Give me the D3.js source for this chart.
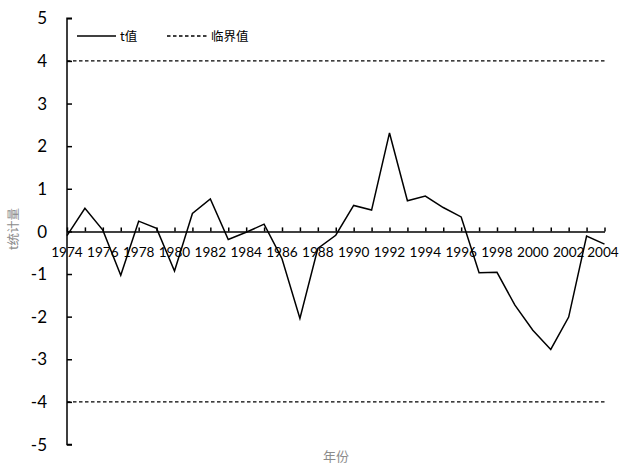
<!DOCTYPE html>
<html>
<head>
<meta charset="utf-8">
<script src="https://cdn.jsdelivr.net/npm/d3@7/dist/d3.min.js"></script>
<style>
  html, body { margin: 0; padding: 0; background: #fff; }
  svg { display: block; }
  .num { font-family: Lato, "Open Sans", "Liberation Sans", sans-serif; }
  .cjk { font-family: "Noto Sans CJK SC", sans-serif; }
</style>
</head>
<body>
<script>
// Yearly t statistic series and the critical threshold
const years = d3.range(1974, 2005);
const tValues = [
  -0.10, 0.54, 0.03, -1.03, 0.24, 0.07, -0.93, 0.42, 0.76, -0.19,
  -0.02, 0.17, -0.64, -2.04, -0.40, -0.09, 0.61, 0.50, 2.31, 0.72,
  0.83, 0.56, 0.34, -0.97, -0.96, -1.73, -2.32, -2.77, -2.01, -0.11,
  -0.30
];
const criticalValue = 4;
const yTicks = [-5, -4, -3, -2, -1, 0, 1, 2, 3, 4, 5];
const xLabelYears = d3.range(1974, 2005, 2);
const seriesNames = ["t值", "临界值"];

const width = 619, height = 465;
const svg = d3.select("body").append("svg")
  .attr("width", width).attr("height", height);

const x = d3.scaleLinear().domain([1974, 2004]).range([67, 604.5]);
const y = d3.scaleLinear().domain([-5, 5]).range([444.5, 18.3]);

// Critical value lines
[criticalValue, -criticalValue].forEach(v => {
  svg.append("line")
    .attr("x1", x(1974)).attr("x2", x(2004))
    .attr("y1", y(v)).attr("y2", y(v))
    .attr("stroke", "#000").attr("stroke-width", 1.3)
    .attr("stroke-dasharray", "3.5,2.5");
});

// Y axis with inward ticks
const yAxis = svg.append("g").attr("transform", `translate(${x(1974)},0)`)
  .call(d3.axisRight(y).tickValues(yTicks).tickSize(5).tickFormat(""));
yAxis.select(".domain").attr("d", `M5,${y(5)}H0V${y(-5)}H5`);
yAxis.selectAll("line, path").attr("stroke", "#000").attr("stroke-width", 1.5);

svg.append("g").selectAll("text").data(yTicks).join("text")
  .attr("class", "num")
  .attr("x", 47).attr("y", d => y(d))
  .attr("dy", "0.36em")
  .attr("text-anchor", "end")
  .attr("font-size", 17).attr("fill", "#000")
  .text(d => d);

// X axis along zero with upward ticks
const xAxis = svg.append("g").attr("transform", `translate(0,${y(0)})`)
  .call(d3.axisTop(x).tickValues(years).tickSize(4).tickSizeOuter(0).tickFormat(""));
xAxis.selectAll("line, path").attr("stroke", "#000").attr("stroke-width", 1.5);

// Year labels; the last one is kept inside the right edge
svg.append("g").selectAll("text").data(xLabelYears).join("text")
  .attr("class", "num")
  .attr("x", d => Math.min(x(d), width - 16))
  .attr("y", y(0) + 26)
  .attr("text-anchor", "middle")
  .attr("font-size", 13.6).attr("fill", "#000")
  .text(d => d);

// t value line
const line = d3.line().x((d, i) => x(years[i])).y(d => y(d));
svg.append("path").datum(tValues)
  .attr("d", line)
  .attr("fill", "none").attr("stroke", "#000")
  .attr("stroke-width", 1.5).attr("stroke-linejoin", "miter");

// Legend
const legend = svg.append("g");
legend.append("line").attr("x1", 77).attr("x2", 116).attr("y1", 36).attr("y2", 36)
  .attr("stroke", "#000").attr("stroke-width", 1.3);
legend.append("text").attr("x", 120).attr("y", 36).attr("dy", "0.36em")
  .attr("class", "cjk").attr("font-size", 12.5).text(seriesNames[0]);
legend.append("line").attr("x1", 167).attr("x2", 207).attr("y1", 36).attr("y2", 36)
  .attr("stroke", "#000").attr("stroke-width", 1.3).attr("stroke-dasharray", "3.5,2.5");
legend.append("text").attr("x", 211).attr("y", 36).attr("dy", "0.36em")
  .attr("class", "cjk").attr("font-size", 12.5).text(seriesNames[1]);

// Axis titles
svg.append("text").attr("class", "cjk")
  .attr("transform", `translate(14,229) rotate(-90)`)
  .attr("text-anchor", "middle").attr("dy", "0.35em")
  .attr("font-size", 12.5).attr("fill", "#8c8c8c")
  .text("t统计量");
svg.append("text").attr("class", "cjk")
  .attr("x", 336).attr("y", 460.5)
  .attr("text-anchor", "middle")
  .attr("font-size", 13).attr("fill", "#8c8c8c")
  .text("年份");
</script>
</body>
</html>
